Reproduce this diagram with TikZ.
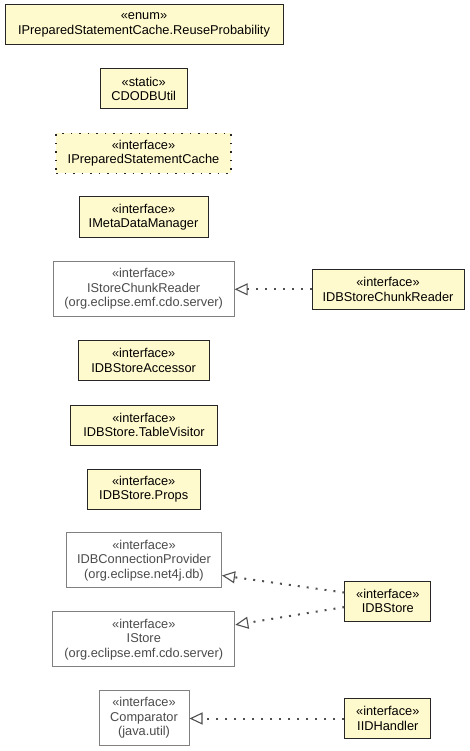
\documentclass[tikz,border=0pt]{standalone}
\usepackage{fontspec}
\setmainfont{Liberation Sans}
\usetikzlibrary{arrows.meta}
\definecolor{yfill}{RGB}{255,250,205}
\definecolor{gborder}{RGB}{128,128,128}
\definecolor{gtext}{RGB}{75,75,75}
\definecolor{conn}{RGB}{80,80,80}
\begin{document}
\begin{tikzpicture}[x=1pt,y=-1pt,
  every node/.style={font=\fontsize{12.8}{14.5}\selectfont, align=center, inner sep=0pt, rectangle},
  ybox/.style={draw=black!85, line width=1pt, fill=yfill, minimum height=40pt},
  dotbox/.style={fill=yfill, draw=black!85, line width=1.5pt, dash pattern=on 1.5pt off 7pt, minimum height=40pt},
  gbox/.style={draw=gborder, line width=1pt, fill=white, text=gtext, minimum height=55pt},
  realize/.style={draw=conn, line width=2pt, dash pattern=on 2pt off 7pt,
    -{Triangle[open, length=13pt, width=12pt, line width=1.1pt, color=conn]}}
]
\useasboundingbox (0,0) rectangle (469,751);

\node[ybox, minimum width=278pt] (reuse) at (144,25) {«enum»\\IPreparedStatementCache.ReuseProbability};
\node[ybox, minimum width=87pt] (util) at (143.7,89) {«static»\\CDODBUtil};
\node[dotbox, minimum width=175pt] (psc) at (143.5,153.3) {«interface»\\IPreparedStatementCache};
\node[ybox, minimum width=129pt] (mdm) at (143.5,217) {«interface»\\IMetaDataManager};
\node[gbox, minimum width=181pt] (iscr) at (143.7,289) {«interface»\\IStoreChunkReader\\(org.eclipse.emf.cdo.server)};
\node[ybox, minimum width=152pt] (idbscr) at (388,289.3) {«interface»\\IDBStoreChunkReader};
\node[ybox, minimum width=131pt] (acc) at (143.7,360.5) {«interface»\\IDBStoreAccessor};
\node[ybox, minimum width=147pt] (tv) at (144,425) {«interface»\\IDBStore.TableVisitor};
\node[ybox, minimum width=113pt] (props) at (143.7,489) {«interface»\\IDBStore.Props};
\node[gbox, minimum width=155pt] (cp) at (144,560.3) {«interface»\\IDBConnectionProvider\\(org.eclipse.net4j.db)};
\node[gbox, minimum width=182pt] (istore) at (143.8,639.3) {«interface»\\IStore\\(org.eclipse.emf.cdo.server)};
\node[ybox, minimum width=86pt] (idbstore) at (387.8,601) {«interface»\\IDBStore};
\node[gbox, minimum width=90pt] (comp) at (144,718) {«interface»\\Comparator\\(java.util)};
\node[ybox, minimum width=86pt] (iid) at (387.8,718.5) {«interface»\\IIDHandler};

\draw[realize] (idbscr.west) -- (iscr.east |- idbscr.west);
\draw[realize] (idbstore.169) -- (cp.-11);
\draw[realize] (idbstore.188) -- (istore.9);
\draw[realize] (iid.west) -- (comp.east |- iid.west);
\end{tikzpicture}
\end{document}
